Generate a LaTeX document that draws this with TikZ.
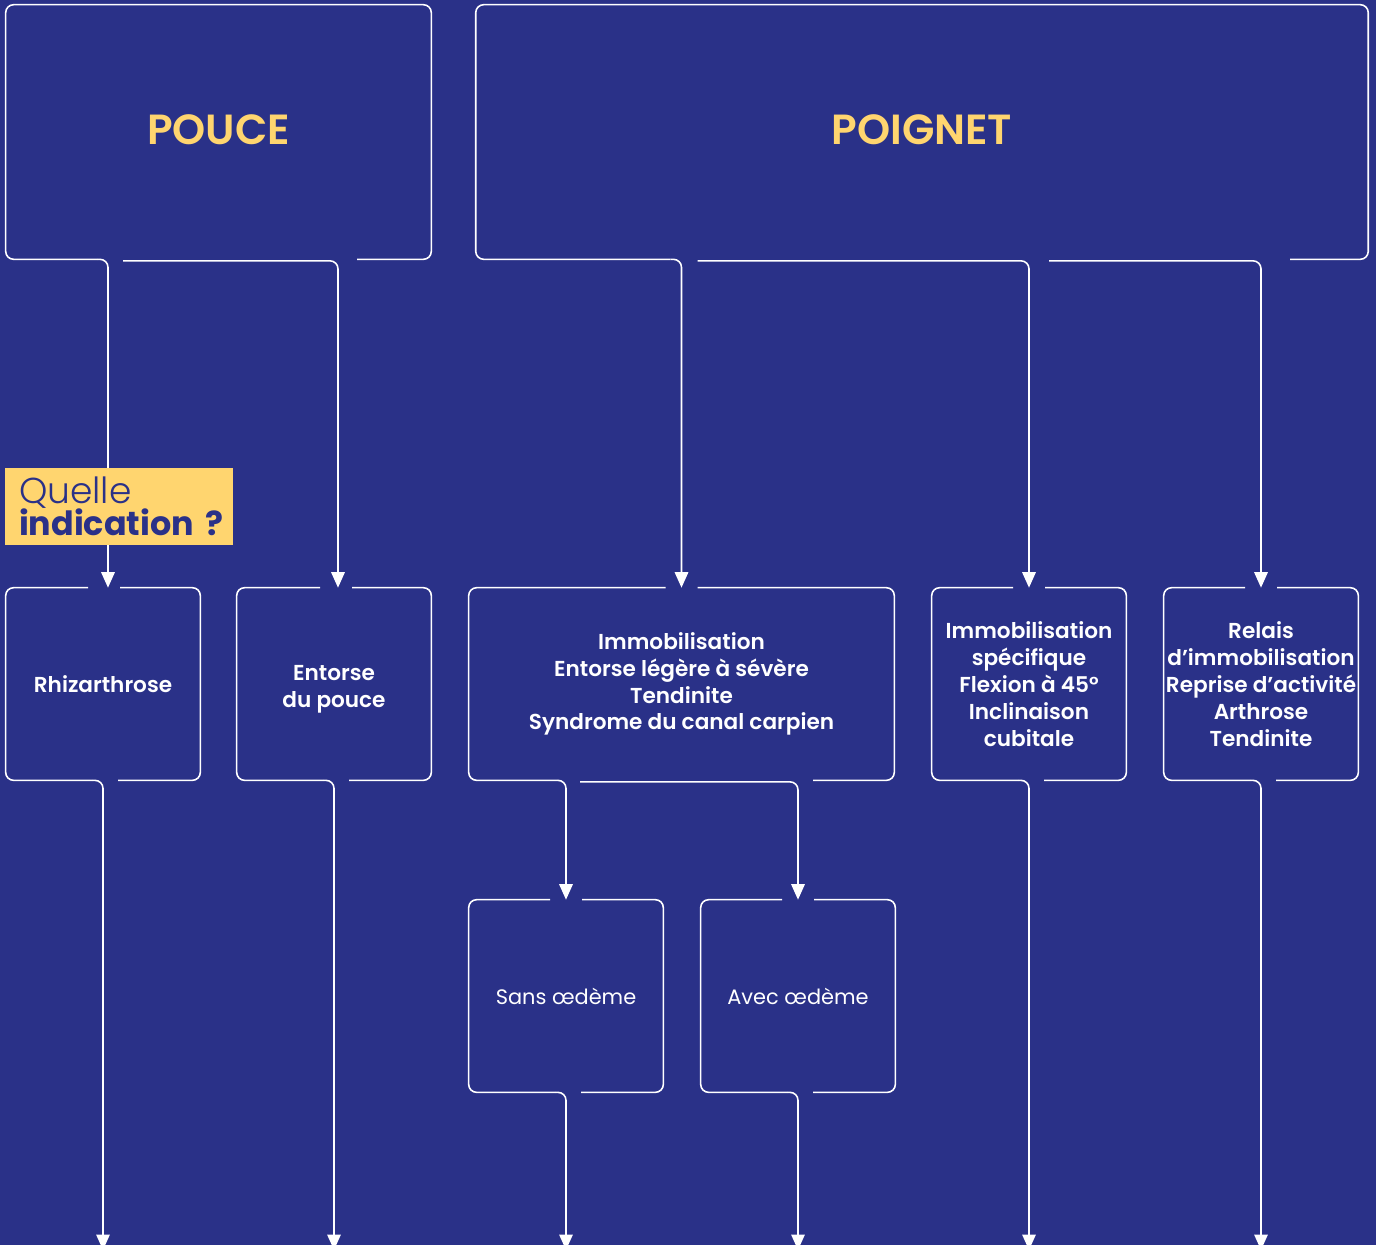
\documentclass[tikz,border=0pt]{standalone}
\usepackage{fontspec}
\setmainfont{Poppins}[BoldFont={* SemiBold}]
\newfontfamily\lightfont{Poppins Light}
\newfontfamily\heavyfont{Poppins Bold}
\usetikzlibrary{arrows.meta,calc}
\definecolor{navy}{HTML}{2A3188}
\definecolor{sun}{HTML}{FFD56F}

% outline of a box, with a gap on top (#2..#3) and one below (#4..#5)
\newcommand{\rimbox}[5]{%
  \draw[rim] ($(#1.north)+(#3,0)$) -- (#1.north east) -- (#1.south east) -- ($(#1.south)+(#5,0)$);
  \draw[rim] ($(#1.south)+(#4,0)$) -- (#1.south west) -- (#1.north west) -- ($(#1.north)+(#2,0)$);}

\begin{document}
\begin{tikzpicture}[
		x=0.02cm, y=-0.02cm,
		headbox/.style={
			minimum height=5.08cm,
			inner sep=0pt,
			text=sun,
			font=\bfseries\fontsize{24}{26}\selectfont
		},
		box/.style={
			minimum width=3.88cm,
			minimum height=3.84cm,
			inner sep=0pt,
			align=center,
			text=white,
			font=\bfseries\fontsize{12.3}{15.3}\selectfont
		},
		plain/.style={font=\fontsize{11.9}{15.3}\selectfont},
		note/.style={
			fill=sun,
			minimum width=4.56cm,
			minimum height=1.54cm,
			inner xsep=0.28cm,
			inner ysep=0pt,
			text width=4.0cm,
			align=left,
			text=navy,
			font=\fontsize{19}{17}\selectfont
		},
		rim/.style={draw=white, line width=0.9pt, rounded corners=0.16cm},
		link/.style={rim, -{Triangle[width=0.27cm,length=0.31cm]}}
		]
		
		% background and page
		\fill[navy] (0,0) rectangle (1376,1245);
		\useasboundingbox (0,0) rectangle (1376,1245);
		
		% Top nodes
		\node[headbox, minimum width=8.5cm] (pouce) at (218.5,132) {\raisebox{0.08cm}{POUCE}};
		\node[headbox, minimum width=17.84cm] (poignet) at (922,132) {\raisebox{0.08cm}{POIGNET}};
		
		% Indications
		\node[box] (rhiz) at (103,684) {Rhizarthrose};
		\node[box] (entorse) at (334,684) {\rule{0pt}{0.52cm}Entorse\\du pouce};
		\node[box, minimum width=8.5cm] (immob) at (681.5,684)
		{Immobilisation\\Entorse légère à sévère\\Tendinite\\Syndrome du canal carpien};
		\node[box] (speci) at (1029,684)
		{Immobilisation\\spécifique\\Flexion à 45°\\Inclinaison\\cubitale};
		\node[box] (relais) at (1261,684)
		{Relais\\d’immobilisation\\Reprise d’activité\\Arthrose\\Tendinite};
		
		% Oedema
		\node[box, plain] (sans) at (566,996) {Sans œdème};
		\node[box, plain] (avec) at (798,996) {Avec œdème};
		
		\coordinate (foot) at (0,1250);
		
		% Outlines
		\draw[rim] ($(pouce.south -| entorse.north)+(23,0)$) -- (pouce.south east) -- (pouce.north east)
		-- (pouce.north west) -- (pouce.south west) -- ($(pouce.south -| rhiz.north)+(-6,0)$);
		\draw[rim] ($(poignet.south -| relais.north)+(29,0)$) -- (poignet.south east) -- (poignet.north east)
		-- (poignet.north west) -- (poignet.south west) -- ($(poignet.south -| immob.north)+(-11,0)$);
		\rimbox{rhiz}{-15}{17}{-11}{15}
		\rimbox{entorse}{-14}{18}{-11}{15}
		\rimbox{immob}{-16}{16}{-124.5}{131.5}
		\rimbox{speci}{-16}{16}{-11}{15}
		\rimbox{relais}{-16}{16}{-11}{15}
		\rimbox{sans}{-16}{16}{-11}{15}
		\rimbox{avec}{-16}{16}{-11}{15}
		
		% Branches from the top nodes
		\draw[link] ($(pouce.south -| rhiz.north)+(-6,0)$) -| ($(rhiz.north)+(5,0)$);
		\draw[link] ($(pouce.south -| rhiz.north)+(20,1.5)$) -| ($(entorse.north)+(4,0)$);
		\draw[link] ($(poignet.south -| immob.north)+(-11,0)$) -| (immob.north);
		\draw[link] ($(poignet.south -| immob.north)+(16,1.5)$) -| (speci.north);
		\draw[link] ($(poignet.south -| speci.north)+(20,1.5)$) -| (relais.north);
		
		% Branches to oedema
		\draw[link] ($(immob.south -| sans.north)+(-9,0)$) -| (sans.north);
		\draw[link] ($(immob.south -| sans.north)+(14,1.5)$) -| (avec.north);
		
		% Down to the foot
		\foreach \n in {rhiz,entorse,speci,relais,sans,avec}
		\draw[link] ($(\n.south)+(-11,0)$) -| (\n.south |- foot);
		
		% Question label
		\node[note] (quelle) at (119,506.5) {{\lightfont\fontsize{20.5}{17}\selectfont Quelle}\\[-1pt]{\heavyfont indication~?}};
		
	\end{tikzpicture}
\end{document}
